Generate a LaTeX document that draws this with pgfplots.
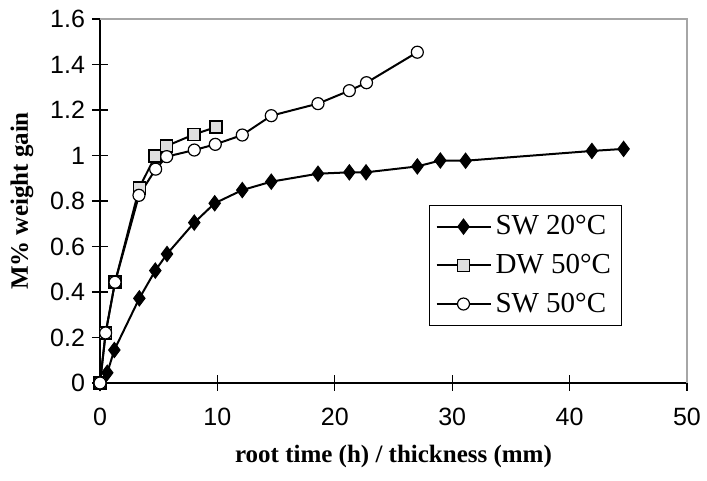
\documentclass[border=0pt]{standalone}
\usepackage{fontspec}
\setmainfont{Liberation Serif}
\setsansfont{Liberation Sans}
\usepackage{pgfplots}
\pgfplotsset{compat=1.18}
\pgfplotstableread{
x y
0 0
0.62 0.045
1.22 0.145
3.35 0.372
4.71 0.494
5.71 0.567
8.03 0.705
9.77 0.790
12.12 0.848
14.59 0.885
18.57 0.920
21.24 0.926
22.66 0.926
27.03 0.952
28.99 0.978
31.14 0.977
41.9 1.02
44.6 1.029
}\swtwenty
\pgfplotstableread{
x y
0 0
0.48 0.22
1.28 0.443
3.35 0.858
4.71 0.998
5.68 1.042
8.03 1.093
9.88 1.125
}\dwfifty
\pgfplotstableread{
x y
0 0
0.48 0.22
1.28 0.443
3.32 0.825
4.74 0.94
5.68 0.995
8.03 1.024
9.82 1.049
12.12 1.09
14.59 1.175
18.57 1.228
21.24 1.285
22.7 1.32
27.03 1.454
}\swfifty
\begin{document}
\begin{tikzpicture}
\useasboundingbox (-50pt,-49pt) rectangle (303.5pt,191.5pt);
\begin{axis}[
  at={(0,0)}, anchor=south west,
  scale only axis, width=293.5pt, height=182pt,
  xmin=0, xmax=50, ymin=0, ymax=1.6,
  xtick={0,10,...,50}, ytick={0,0.2,...,1.6},
  axis x line*=bottom, axis y line*=left,
  axis line style={-, line width=0.7pt},
  tick align=center, major tick length=8pt,
  tick style={black, line width=0.6pt},
  clip=false,
  ticklabel style={font=\fontsize{12.5}{14}\selectfont\sffamily},
  /pgf/number format/assume math mode=true,
  xticklabel style={yshift=-5pt},
  yticklabel style={/pgf/number format/fixed},
  xlabel={root time (h) / thickness (mm)},
  ylabel={M\% weight gain},
  label style={font=\fontsize{12.5}{15}\selectfont\bfseries},
  xlabel style={at={(axis description cs:0.5,-0.203)}, anchor=center},
  ylabel style={at={(axis description cs:-0.1329,0.5)}, anchor=center},
  legend style={at={(rel axis cs:0.5605,0.489)}, anchor=north west,
    draw=black, line width=0.5pt, font=\fontsize{14.5}{16}\selectfont,
    row sep=4.2pt, inner sep=3pt},
  legend cell align=left,
  legend image code/.code={\draw[mark repeat=2,mark phase=2] plot coordinates {(0pt,0pt) (13.5pt,0pt) (27pt,0pt)};},
]
\addplot[black, line width=1pt, mark=diamond*, mark size=3.8pt,
  mark options={solid, fill=black, line width=0.5pt}] table[x=x,y=y] {\swtwenty};
\addlegendentry{SW 20°C}
\addplot[black, line width=1pt, mark=square*, mark size=3pt,
  mark options={solid, fill=gray!25, line width=0.8pt}] table[x=x,y=y] {\dwfifty};
\addlegendentry{DW 50°C}
\addplot[black, line width=1pt, mark=*, mark size=3pt,
  mark options={solid, fill=white, line width=0.6pt}] table[x=x,y=y] {\swfifty};
\addlegendentry{SW 50°C}
\draw[gray!70, line width=0.6pt] (rel axis cs:0,1) -- (rel axis cs:1,1) -- (rel axis cs:1,0);
\end{axis}
\end{tikzpicture}
\end{document}
